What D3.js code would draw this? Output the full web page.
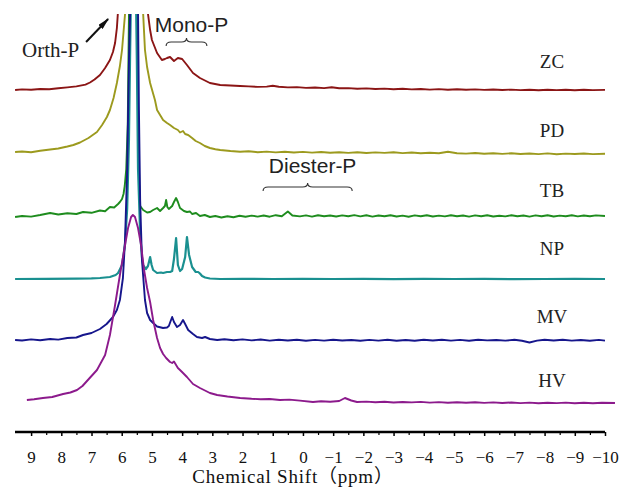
<!DOCTYPE html>
<html>
<head>
<meta charset="utf-8">
<script src="https://cdn.jsdelivr.net/npm/d3@7"></script>
<style>
    body { margin: 0; background: #fff; }
</style>
</head>
<body>
<div id="chart"></div>
<script>
/**
 * Stacked 31P NMR spectra of six samples, drawn with d3.
 */

// sample names, top to bottom
var sampleNames = ["ZC", "PD", "TB", "NP", "MV", "HV"];

// vertical offset of every spectrum (same units as the intensities)
var sampleOffsets = [342, 280, 218, 153, 92, 32];

// spectra as [chemical shift (ppm), intensity above the own baseline]
var zc = [[9.53,0],[9.3,0.6],[9.0,0.2],[8.7,1.0],[8.4,0.8],[8.1,1.8],[7.8,2.6],[7.5,3.6],[7.2,5.4],[7.05,7.5],
    [6.9,10.5],[6.72,15],[6.55,22],[6.39,30],[6.29,38],[6.22,47],[6.16,62],[6.12,80],[5.65,900],[5.16,80],
    [5.13,76],[5.06,60],[5.0,50],[4.83,37],[4.67,30],[4.57,31],[4.5,32],[4.40,33],[4.27,29],[4.14,32],[4.0,31],
    [3.84,25],[3.64,17],[3.41,12],[3.08,7],[2.74,5],[2.4,4.5],[2.08,4],[1.8,3.6],[1.5,3.1],[1.2,3.4],[1.0,4.2],
    [0.8,3.2],[0.5,2.6],[0.2,2.9],[-0.1,2.1],[-0.4,2.5],[-0.7,1.9],[-0.95,2.8],[-1.2,1.7],[-1.5,1.9],[-1.8,1.2],
    [-2.1,1.6],[-2.4,1.0],[-2.7,1.4],[-3.0,0.8],[-3.3,1.2],[-3.6,0.6],[-3.9,1.0],[-4.2,0.4],[-4.5,0.9],[-4.8,0.3],
    [-5.1,0.8],[-5.4,0.2],[-5.7,0.6],[-6.0,0.1],[-6.3,0.5],[-6.6,0.0],[-6.9,0.4],[-7.2,-0.1],[-7.5,0.3],[-7.8,-0.2],
    [-8.1,0.3],[-8.4,-0.1],[-8.7,0.2],[-9.0,-0.3],[-9.3,0.2],[-9.6,-0.1],[-10.0,0.1]];

var pd = [[9.53,0],[9.3,0.5],[9.0,-0.3],[8.7,1.2],[8.37,2.5],[8.1,3.5],[7.8,5.5],[7.6,7],[7.38,9.5],[7.1,14],
    [6.82,20],[6.65,27],[6.49,35],[6.39,42],[6.27,54],[6.16,69],[6.06,86],[5.99,102],[5.89,138],[5.86,170],
    [5.625,1200],[5.31,170],[5.29,138],[5.23,102],[5.16,85],[5.06,69],[4.90,52],[4.83,42],[4.73,37],[4.63,32],
    [4.5,29],[4.40,27],[4.27,24],[4.14,22],[4.07,19.5],[3.97,21],[3.90,18],[3.80,17],[3.67,14],[3.55,11],[3.41,9],
    [3.25,6],[3.08,4],[2.9,2.8],[2.74,2],[2.4,1],[2.08,0.3],[1.8,0.8],[1.5,-0.2],[1.2,0.4],[0.9,-0.4],[0.6,0.3],
    [0.3,-0.5],[0.0,0.1],[-0.3,-0.6],[-0.6,0],[-0.9,-0.7],[-1.2,-0.2],[-1.5,-0.9],[-1.8,-0.3],[-2.1,-1.0],
    [-2.4,-0.4],[-2.7,-0.9],[-3.0,-0.3],[-3.3,-1.1],[-3.6,-0.5],[-3.9,-1.2],[-4.2,-0.7],[-4.5,-1.3],[-4.8,0.2],
    [-5.1,-1.2],[-5.4,-1.6],[-5.7,-1.0],[-6.0,-1.7],[-6.3,-1.2],[-6.6,-1.9],[-6.9,-1.3],[-7.2,-2.0],[-7.5,-1.5],
    [-7.8,-2.1],[-8.1,-1.4],[-8.4,-2.2],[-8.7,-1.6],[-9.0,-2.0],[-9.3,-1.5],[-9.6,-2.1],[-10.0,-1.8]];

var tb = [[9.53,-3],[9.3,-2],[9.0,-2.6],[8.7,-1],[8.37,1],[8.1,-0.5],[7.8,0.8],[7.5,0],[7.28,2],[7.0,1.2],
    [6.72,3.5],[6.55,2.8],[6.39,7],[6.25,6.5],[6.12,10],[6.06,12],[5.99,15],[5.94,20],[5.90,28],[5.85,45],
    [5.80,90],[5.76,200],[5.735,260],[5.64,1500],[5.52,260],[5.50,200],[5.46,110],[5.42,30],[5.39,8],[5.29,4],
    [5.16,1.5],[5.06,2],[4.96,4],[4.83,6],[4.73,3],[4.63,6],[4.57,8],[4.53,14],[4.49,7],[4.44,5],[4.33,8],
    [4.27,12],[4.20,16],[4.14,12],[4.07,6],[3.94,3],[3.84,2],[3.74,2.5],[3.67,0],[3.54,1],[3.41,-2],[3.25,-1],
    [3.08,-3],[2.9,-2],[2.7,-3.5],[2.5,-2.2],[2.3,-3.2],[2.1,-1.8],[1.9,-2.8],[1.7,-1.6],[1.5,-2.6],[1.3,-1.5],
    [1.1,-2.7],[0.9,-1.2],[0.7,-2.2],[0.5,2.5],[0.35,-1.5],[0.1,-2.4],[-0.1,-1.4],[-0.3,-2.6],[-0.5,-1.2],
    [-0.7,-2.3],[-0.9,-1.5],[-1.1,-2.5],[-1.3,-1.4],[-1.5,-2.2],[-1.7,-1.1],[-1.9,-2.4],[-2.1,-1.3],[-2.3,-2.6],
    [-2.5,-1.5],[-2.7,-2.3],[-2.9,-1.2],[-3.1,-2.5],[-3.3,-1.6],[-3.5,-2.7],[-3.7,-1.4],[-3.9,-2.2],[-4.1,-1.3],
    [-4.3,-2.5],[-4.5,-1.6],[-4.7,-2.4],[-4.9,-1.2],[-5.1,-2.3],[-5.3,-1.5],[-5.5,-2.6],[-5.7,-1.4],[-5.9,-2.2],
    [-6.1,-1.3],[-6.3,-2.5],[-6.5,-1.7],[-6.7,-2.4],[-6.9,-1.2],[-7.1,-2.2],[-7.3,-1.5],[-7.5,-2.6],[-7.7,-1.4],
    [-7.9,-2.3],[-8.1,-1.3],[-8.3,-2.5],[-8.5,-1.6],[-8.7,-2.2],[-8.9,-1.3],[-9.1,-2.4],[-9.3,-1.5],[-9.5,-2.3],
    [-9.7,-1.4],[-10.0,-2.0]];

var np = [[9.53,0],[8.5,0.2],[7.5,0.3],[7.0,0.6],[6.72,1],[6.39,2],[6.2,4],[6.12,6],[5.99,14],[5.89,35],
    [5.82,70],[5.76,140],[5.72,230],[5.685,300],[5.605,3000],[5.535,300],[5.50,220],[5.46,110],[5.39,46],
    [5.33,22],[5.29,14],[5.20,10],[5.13,13],[5.06,22],[5.01,14],[4.96,9],[4.83,6],[4.7,6.5],[4.63,6],[4.5,7],
    [4.40,7],[4.33,8],[4.27,20],[4.20,41],[4.14,14],[4.07,8],[4.0,10],[3.90,22],[3.84,42],[3.77,24],[3.67,12],
    [3.55,7],[3.47,7],[3.41,5.5],[3.34,3],[3.24,1.5],[3.08,0.5],[2.74,0],[2.0,0.2],[1.0,0],[0,0.2],[-1,0],
    [-2,0.1],[-3,-0.1],[-4,0.1],[-5,0],[-6,0.1],[-7,-0.1],[-8,0],[-9,0.1],[-10,0]];

var mv = [[9.53,0],[9.3,-0.5],[9.0,0.6],[8.7,-0.2],[8.37,1],[8.1,0.4],[7.8,2],[7.5,2.5],[7.28,5],[7.0,7],
    [6.72,11],[6.5,16],[6.29,23],[6.16,30],[6.06,40],[5.96,62],[5.89,100],[5.82,170],[5.76,280],[5.72,330],
    [5.59,2000],[5.46,330],[5.43,230],[5.39,140],[5.33,80],[5.23,40],[5.16,27],[5.06,20],[4.96,17],[4.83,13.5],
    [4.63,12],[4.5,12.5],[4.44,14],[4.38,19],[4.33,23],[4.27,18],[4.17,13],[4.07,15],[3.97,20],[3.9,16],[3.80,10],
    [3.64,6],[3.51,3],[3.34,2],[3.24,3],[3.08,1],[2.84,0],[2.6,0.8],[2.3,-0.3],[2.0,0.6],[1.7,-0.4],[1.4,0.5],
    [1.1,-0.6],[0.8,0.3],[0.5,-0.5],[0.2,0.2],[-0.1,-0.7],[-0.4,0.1],[-0.7,-0.6],[-1.0,0.3],[-1.3,-0.5],[-1.6,0],
    [-1.9,-0.8],[-2.2,0.1],[-2.5,-0.6],[-2.8,0.2],[-3.1,-0.7],[-3.4,0],[-3.7,-0.8],[-4.0,0.2],[-4.3,-0.5],
    [-4.6,0.3],[-4.9,-0.6],[-5.2,0.1],[-5.5,-0.7],[-5.8,0.2],[-6.1,-0.4],[-6.4,0],[-6.7,-0.6],[-7.0,0.2],
    [-7.25,-0.8],[-7.5,-2.5],[-7.75,-0.6],[-8.0,0.3],[-8.3,-0.5],[-8.6,0.2],[-8.9,-0.6],[-9.2,0],[-9.5,-0.7],
    [-9.8,0.1],[-10.0,-0.6]];

var hv = [[9.14,0],[8.9,0.8],[8.61,2],[8.3,3],[7.94,6],[7.7,7.5],[7.48,10],[7.3,14],[7.12,20],[6.97,25],
    [6.82,30],[6.55,45],[6.39,65],[6.22,95],[6.06,125],[5.89,155],[5.79,172],[5.69,183],[5.63,185],[5.56,183],
    [5.46,172],[5.36,155],[5.26,130],[5.16,112],[5.06,98],[4.96,80],[4.83,62],[4.73,52],[4.63,46],[4.53,42],
    [4.40,38],[4.33,37],[4.27,38.5],[4.20,35],[4.14,32],[4.07,30],[3.97,27],[3.84,23],[3.64,16],[3.41,12],
    [3.08,7],[2.84,5],[2.5,3.5],[2.08,2],[1.7,1.2],[1.4,0.8],[1.1,1],[0.76,0],[0.45,0.4],[0.1,-0.6],[-0.33,-2],
    [-0.6,-1.2],[-0.9,-1.8],[-1.2,-1],[-1.39,2],[-1.6,-0.5],[-1.79,-2],[-2.1,-1.6],[-2.4,-2.3],[-2.7,-1.8],
    [-3.0,-2.5],[-3.3,-2],[-3.6,-2.4],[-3.9,-1.9],[-4.2,-2.6],[-4.5,-2.1],[-4.8,-2.7],[-5.1,-2.2],[-5.4,-2.8],
    [-5.7,-2.3],[-6.0,-2.9],[-6.3,-2.4],[-6.6,-3],[-6.9,-2.5],[-7.2,-3.1],[-7.5,-2.6],[-7.8,-3.2],[-8.1,-2.7],
    [-8.4,-3.1],[-8.7,-2.6],[-9.0,-3.2],[-9.3,-2.8],[-9.6,-3.3],[-9.9,-2.7],[-10.33,-3]];

var spectra = [zc, pd, tb, np, mv, hv];

// x axis tick labels (ppm) and the half-ppm minor ticks
var tickLabels = [9, 8, 7, 6, 5, 4, 3, 2, 1, 0, -1, -2, -3, -4, -5, -6, -7, -8, -9, -10];
var minorTicks = [8.5, 7.5, 6.5, 5.5, 4.5, 3.5, 2.5, 1.5, 0.5, -0.5, -1.5, -2.5, -3.5, -4.5, -5.5, -6.5,
    -7.5, -8.5, -9.5];

// peak group annotations: [label, ppm from, ppm to]
var monoRange = ["Mono-P", 4.53, 3.18];
var diesterRange = ["Diester-P", 1.32, -1.63];

// ---- layout ----
var width = 619, height = 489;
var colors = ["#8b1515", "#9c9a1e", "#1e8c1e", "#1a9090", "#16168c", "#8c1a8c"];
var labelLevels = [364, 295, 235, 177, 109, 45];   // sample label baselines (y units)

var svg = d3.select("#chart").append("svg")
    .attr("width", width)
    .attr("height", height)
    .style("display", "block");

var x = d3.scaleLinear().domain([9.5, -10]).range([16, 605]);
var y = d3.scaleLinear().domain([0, 418]).range([432, 14]);

// clip the tall orthophosphate peaks at the top of the plot
svg.append("clipPath").attr("id", "clip")
    .append("rect")
    .attr("x", 0).attr("y", y(418))
    .attr("width", width).attr("height", height);

var plot = svg.append("g").attr("clip-path", "url(#clip)");

spectra.forEach(function (data, i) {
    var line = d3.line()
        .x(function (d) { return x(d[0]); })
        .y(function (d) { return y(sampleOffsets[i] + d[1]); });
    plot.append("path")
        .datum(data)
        .attr("d", line)
        .attr("fill", "none")
        .attr("stroke", colors[i])
        .attr("stroke-width", sampleNames[i] === "NP" ? 2.2 : 1.9)
        .attr("stroke-linejoin", "round");
});

// sample labels
svg.append("g")
    .attr("font-family", "'Liberation Serif', 'Times New Roman', serif")
    .attr("font-size", 19)
    .attr("fill", "#222")
    .attr("text-anchor", "middle")
    .selectAll("text")
    .data(sampleNames)
    .enter().append("text")
    .attr("x", 552)
    .attr("y", function (d, i) { return y(labelLevels[i]); })
    .text(function (d) { return d; });

// x axis
var axis = svg.append("g")
    .attr("transform", "translate(0," + y(0) + ")")
    .call(d3.axisBottom(x)
        .tickValues(tickLabels)
        .tickSize(4)
        .tickSizeOuter(0)
        .tickPadding(15));
axis.select(".domain").attr("stroke", "#000").attr("stroke-width", 2.6)
    .attr("d", "M" + (x(9.5) - 1) + ",0H" + x(-10));
axis.selectAll(".tick line").attr("stroke", "#000").attr("stroke-width", 1.5);
axis.selectAll(".tick text")
    .attr("font-family", "'Liberation Serif', 'Times New Roman', serif")
    .attr("font-size", 17)
    .attr("fill", "#111");

var minor = svg.append("g")
    .attr("transform", "translate(0," + y(0) + ")")
    .call(d3.axisBottom(x).tickValues(minorTicks).tickSize(3).tickFormat(""));
minor.select(".domain").remove();
minor.selectAll(".tick line").attr("stroke", "#000").attr("stroke-width", 1.2);

// axis title
svg.append("text")
    .attr("x", 293)
    .attr("y", 483)
    .attr("text-anchor", "middle")
    .attr("font-family", "'Liberation Serif', 'Noto Sans CJK SC', serif")
    .attr("font-size", 19)
    .attr("letter-spacing", 0.8)
    .attr("fill", "#111")
    .text("Chemical Shift（ppm）");

// ---- annotations ----
function brace(x0, x1, yTop, depth) {
    var mid = (x0 + x1) / 2, r = 5;
    return "M" + x0 + "," + (yTop + depth) +
        "Q" + x0 + "," + yTop + " " + (x0 + r) + "," + yTop +
        "L" + (mid - r) + "," + yTop +
        "Q" + mid + "," + yTop + " " + mid + "," + (yTop - depth) +
        "Q" + mid + "," + yTop + " " + (mid + r) + "," + yTop +
        "L" + (x1 - r) + "," + yTop +
        "Q" + x1 + "," + yTop + " " + x1 + "," + (yTop + depth);
}

[[monoRange, 390, 400], [diesterRange, 245, 259]].forEach(function (a) {
    var r = a[0];
    svg.append("path")
        .attr("d", brace(x(r[1]), x(r[2]), y(a[1]), 4))
        .attr("fill", "none")
        .attr("stroke", "#333")
        .attr("stroke-width", 1.1);
    svg.append("text")
        .attr("x", (x(r[1]) + x(r[2])) / 2 + 5)
        .attr("y", y(a[2]))
        .attr("text-anchor", "middle")
        .attr("font-family", "'Liberation Sans', Arial, sans-serif")
        .attr("font-size", 21)
        .attr("fill", "#222")
        .text(r[0]);
});

// orthophosphate label with arrow
svg.append("defs").append("marker")
    .attr("id", "head")
    .attr("viewBox", "0 0 12 6")
    .attr("refX", 11).attr("refY", 3)
    .attr("markerWidth", 12).attr("markerHeight", 6)
    .attr("markerUnits", "userSpaceOnUse")
    .attr("orient", "auto")
    .append("path")
    .attr("d", "M0,0L12,3L0,6Z")
    .attr("fill", "#111");

svg.append("line")
    .attr("x1", x(7.18)).attr("y1", y(390))
    .attr("x2", x(6.45)).attr("y2", y(413))
    .attr("stroke", "#111")
    .attr("stroke-width", 2)
    .attr("marker-end", "url(#head)");

svg.append("text")
    .attr("x", 22)
    .attr("y", 57)
    .attr("font-family", "'Liberation Serif', 'Times New Roman', serif")
    .attr("font-size", 21)
    .attr("fill", "#222")
    .text("Orth-P");
</script>
</body>
</html>
